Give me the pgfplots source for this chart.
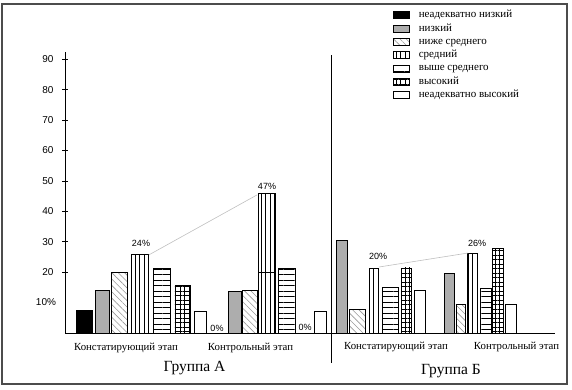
\documentclass[border=0pt]{standalone}
\usepackage{pgfplots}
\pgfplotsset{compat=1.18}
\usetikzlibrary{patterns.meta}
\usepackage{fontspec}
\setmainfont{Liberation Serif}
\newfontfamily\sansf{Liberation Sans}
\tikzset{
  hatchP/.style={pattern={Lines[angle=-45,distance=4.5pt,line width=0.6pt]}, pattern color=black!40},
  vertP/.style={pattern={Lines[angle=90,distance=4.5pt,line width=0.7pt]}, pattern color=black},
  horP/.style={pattern={Lines[angle=0,distance=5.5pt,line width=0.8pt]}, pattern color=black},
  gridP/.style={pattern={Hatch[angle=0,distance=4.5pt,line width=0.6pt]}, pattern color=black},
}
\pgfplotsset{mybar/.style={ybar, bar shift=0pt, draw=black, line width=0.8pt}}
\begin{document}
\begin{tikzpicture}
\useasboundingbox (0,0) rectangle (572pt,390pt);
\draw[black!70, line width=1.3pt] (2pt,6pt) rectangle (567pt,386pt);
\begin{axis}[
  at={(65pt,57pt)}, anchor=south west,
  scale only axis, width=490pt, height=281pt,
  xmin=65, xmax=555, ymin=0, ymax=92.4,
  axis lines=left, axis line style={-, line width=0.8pt},
  xtick=\empty,
  ytick={20,30,...,90},
  tick align=center, major tick length=6pt,
  tick style={line width=0.8pt, black},
  yticklabel style={font=\sansf\fontsize{10}{12}\selectfont, xshift=-5pt},
  /pgf/number format/assume math mode=true,
  clip=false,
  legend style={at={(0.669,1.153)}, anchor=north west, draw=none, fill=none, inner sep=0pt,
    font=\fontsize{11}{12}\selectfont, row sep=1.3pt,
    nodes={inner sep=1pt, text height=7.5pt, text depth=2.5pt},
    /tikz/every odd column/.style={column sep=8pt}},
  legend cell align=left,
  legend image code/.code={\draw[#1] (0pt,-3.5pt) rectangle (16pt,3.5pt);},
]
% неадекватно низкий
\addplot[mybar, fill=black, bar width=16.7] coordinates {(84.4,7.3)};
\addlegendentry{неадекватно низкий}
% низкий
\addplot[mybar, fill=black!32, bar width=13.3] coordinates {(102.3,13.9)};
\addlegendentry{низкий}
\addplot[mybar, fill=black!32, bar width=13, forget plot] coordinates {(234.5,13.6)};
\addplot[mybar, fill=black!32, bar width=11, forget plot] coordinates {(342.2,30.4)};
\addplot[mybar, fill=black!32, bar width=9.7, forget plot] coordinates {(449.2,19.6)};
% ниже среднего
\addplot[mybar, hatchP, bar width=16] coordinates {(119,20.0)};
\addlegendentry{ниже среднего}
\addplot[mybar, hatchP, bar width=15, forget plot] coordinates {(249.5,14.0)};
\addplot[mybar, hatchP, bar width=16, forget plot] coordinates {(357,7.6)};
\addplot[mybar, hatchP, bar width=9.7, forget plot] coordinates {(460.8,9.5)};
% средний
\addplot[mybar, vertP, bar width=16.6] coordinates {(140,25.9)};
\addlegendentry{средний}
\addplot[mybar, vertP, bar width=17, forget plot] coordinates {(266.5,46.0)};
\addplot[mybar, fill=none, bar width=17, forget plot] coordinates {(266.5,19.8)};
\addplot[mybar, vertP, bar width=9.4, forget plot] coordinates {(374,21.3)};
\addplot[mybar, vertP, bar width=10, forget plot] coordinates {(472.7,26.2)};
% выше среднего
\addplot[mybar, horP, bar width=17] coordinates {(161.5,21.4)};
\addlegendentry{выше среднего}
\addplot[mybar, horP, bar width=17, forget plot] coordinates {(286.5,21.3)};
\addplot[mybar, horP, bar width=15.6, forget plot] coordinates {(390.5,14.9)};
\addplot[mybar, horP, bar width=11, forget plot] coordinates {(486.2,14.7)};
% высокий
\addplot[mybar, gridP, bar width=15.7] coordinates {(182.8,15.5)};
\addlegendentry{высокий}
\addplot[mybar, gridP, bar width=10, forget plot] coordinates {(406,21.4)};
\addplot[mybar, gridP, bar width=11, forget plot] coordinates {(497.8,27.9)};
% неадекватно высокий
\addplot[mybar, fill=white, bar width=12] coordinates {(200,7.2)};
\addlegendentry{неадекватно высокий}
\addplot[mybar, fill=white, bar width=12, forget plot] coordinates {(320,7.0)};
\addplot[mybar, fill=white, bar width=11, forget plot] coordinates {(419.5,13.9)};
\addplot[mybar, fill=white, bar width=11, forget plot] coordinates {(510.5,9.5)};
% connecting lines
\addplot[black!25, line width=0.6pt, forget plot, no markers] coordinates {(149,25.7) (257,45.4)};
\addplot[black!25, line width=0.6pt, forget plot, no markers] coordinates {(379,21.7) (468,26.3)};
% divider
\draw[line width=0.8pt] (axis cs:331,91.4) -- (axis cs:331,-9.9);
\end{axis}
% labels
\begin{scope}[every node/.style={font=\sansf\fontsize{9}{10}\selectfont}]
\node at (141pt,147pt) {24\%};
\node at (267pt,204pt) {47\%};
\node at (378pt,134pt) {20\%};
\node at (477pt,147pt) {26\%};
\node at (217pt,62pt) {0\%};
\node at (305pt,63pt) {0\%};
\end{scope}
\node[font=\sansf\fontsize{10}{12}\selectfont] at (46pt,88pt) {10\%};
\begin{scope}[every node/.style={font=\fontsize{10.8}{12}\selectfont}]
\node at (126pt,42pt) {Констатирующий этап};
\node at (250.5pt,42pt) {Контрольный этап};
\node at (396pt,43pt) {Констатирующий этап};
\node at (516.5pt,43pt) {Контрольный этап};
\end{scope}
\node[font=\fontsize{15.5}{18}\selectfont] at (194.5pt,22pt) {Группа А};
\node[font=\fontsize{15.5}{18}\selectfont] at (451pt,19pt) {Группа Б};
\end{tikzpicture}
\end{document}
